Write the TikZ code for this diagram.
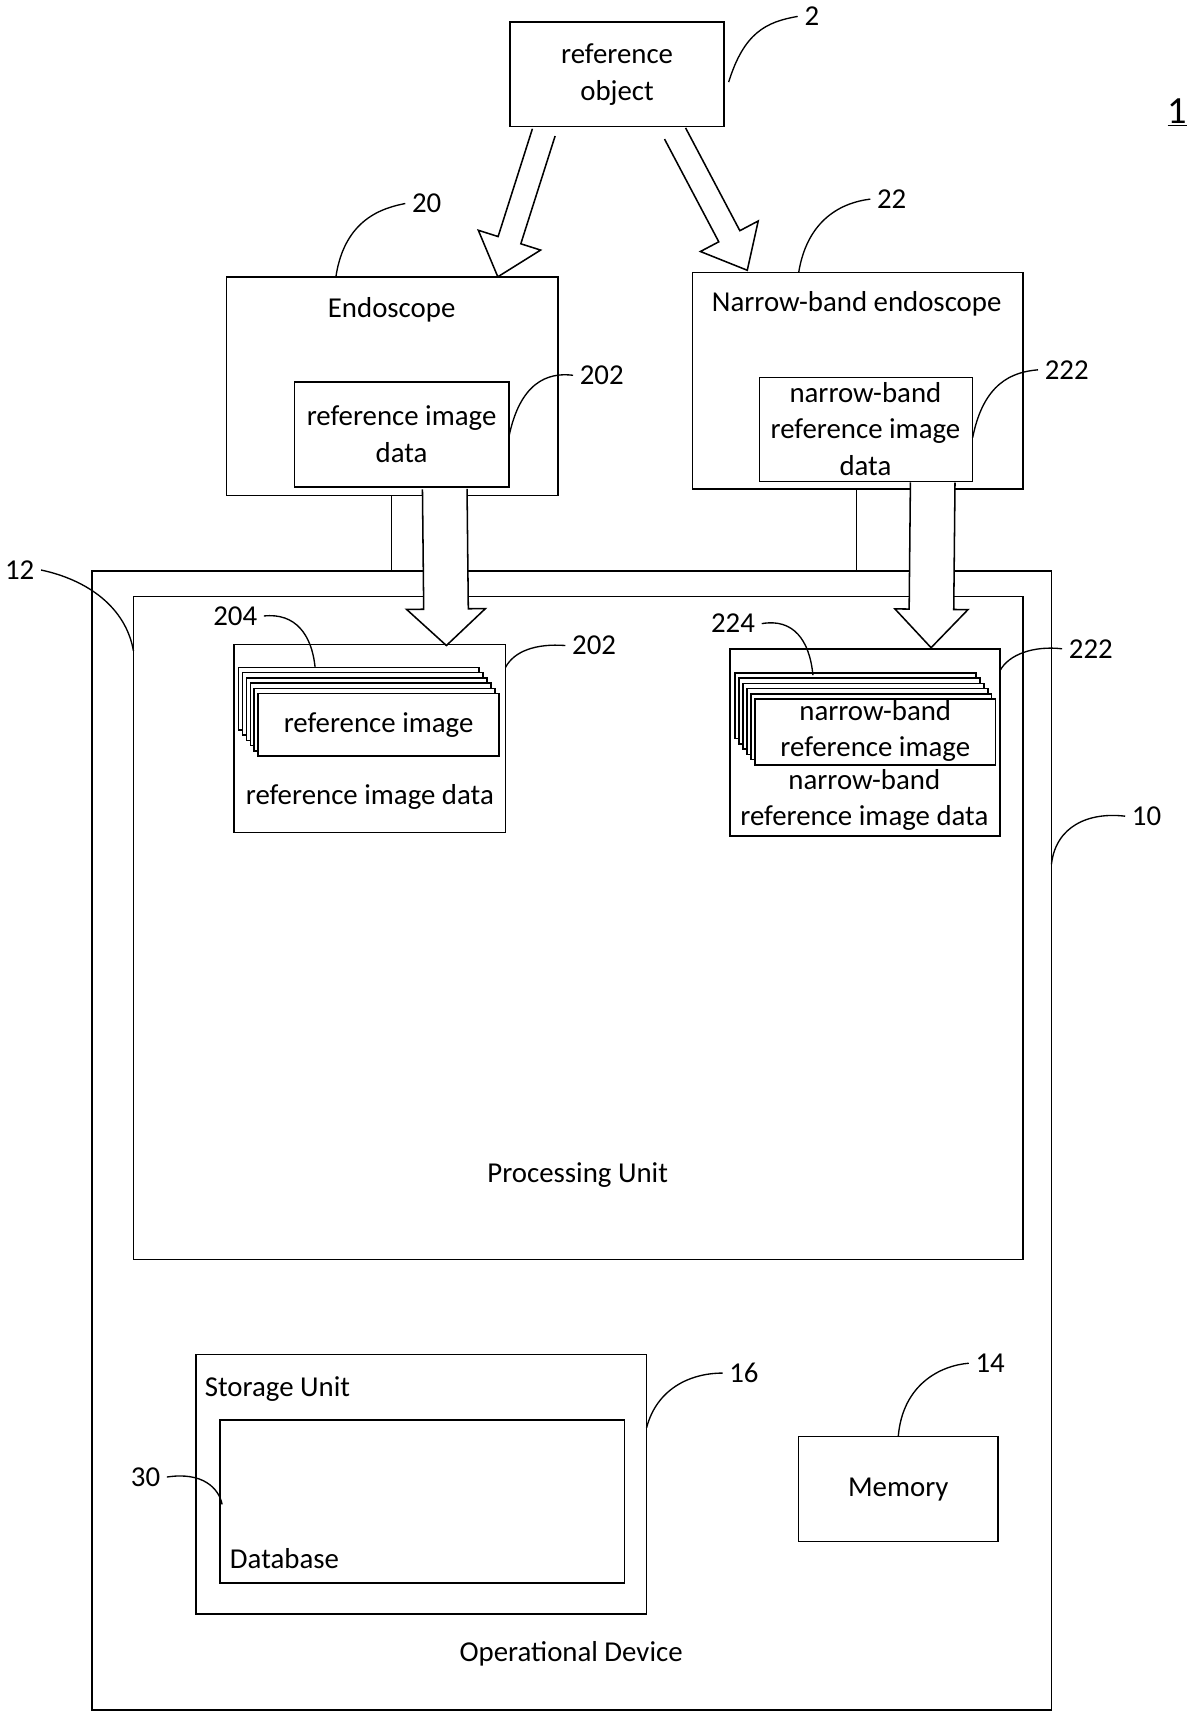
\documentclass[tikz,border=0pt]{standalone}
\usepackage{fontspec}
\setmainfont{Carlito}
\usetikzlibrary{calc}
\begin{document}
\begin{tikzpicture}[x=0.02cm,y=-0.02cm,
  box/.style={draw,line width=0.8pt},
  lbl/.style={font=\fontsize{15}{19}\selectfont,align=center},
  num/.style={font=\fontsize{15}{19}\selectfont},
  lead/.style={line width=0.7pt},
  harrow/.style={draw,line width=0.8pt,fill=white}]
\useasboundingbox (0,0) rectangle (1097,1573);
\newcommand{\hollowarr}[5]{% A B halfshaft halfhead headlen (pt)
  \coordinate (hA) at #1; \coordinate (hB) at #2;
  \coordinate (hH) at ($(hB)!#5!(hA)$);
  \draw[harrow] ($(hA)!#3!90:(hB)$) -- ($(hH)!#3!90:(hB)$) -- ($(hH)!#4!90:(hB)$) -- (hB)
   -- ($(hH)!#4!-90:(hB)$) -- ($(hH)!#3!-90:(hB)$) -- ($(hA)!#3!-90:(hB)$);}
% reference object
\node[box,lbl,minimum width=196*0.567pt,minimum height=96*0.567pt] (ro) at (564,68) {reference\\object};
\node[num] (n2) at (742,15) {2};
\draw[lead] (666,75) .. controls (680,30) and (700,20) .. (n2.west);
\node[font=\fontsize{20}{24}\selectfont] (one) at (1076,103) {\underline{1}};
% endoscope
\draw[box] (207,253) rectangle (510,453);
\node[lbl] (endo) at (358,283) {Endoscope};
\draw[box] (269,349) rectangle (465,445);
\node[lbl] (rid) at (367,397) {reference image\\data};
\node[num] (n202a) at (550,343) {202};
\draw[lead] (465,400) .. controls (475,350) and (500,340) .. (n202a.west);
\node[num] (n20) at (390,186) {20};
\draw[lead] (307,253) .. controls (315,200) and (350,190) .. (n20.west);
% narrow band
\draw[box] (633,249) rectangle (935,447);
\node[lbl] (nbe) at (783,278) {Narrow-band endoscope};
\draw[box] (694,345) rectangle (889,440);
\node[lbl] (nrid) at (791,392) {narrow-band\\reference image\\data};
\node[num] (n222a) at (975,338) {222};
\draw[lead] (889,400) .. controls (899,350) and (925,340) .. (n222a.west);
\node[num] (n22) at (815,182) {22};
\draw[lead] (730,249) .. controls (738,200) and (770,185) .. (n22.west);
% device
\draw[box] (84,522) rectangle (961,1563);
\node[lbl] (od) at (522,1512) {Operational Device};
\node[num] (n10) at (1048,746) {10};
\draw[lead] (961,790) .. controls (965,755) and (995,742) .. (n10.west);
\draw[box] (122,545) rectangle (935,1151);
\node[lbl] (pu) at (528,1074) {Processing Unit};
\node[num] (n12) at (18,521) {12};
\draw[lead] (n12.east) .. controls (80,530) and (115,555) .. (122,595);
% stubs
\draw[box] (358,453) -- (358,522);
\draw[box] (783,447) -- (783,522);
% left data
\draw[box] (214,589) rectangle (462,761);
\foreach \i in {5,4,3,2,1} {\draw[box,fill=white] (236-3.6*\i,634-4.8*\i) rectangle (456-3.6*\i,691-4.8*\i);}
\draw[box,fill=white] (236,634) rectangle (456,691);
\node[lbl] (ri) at (346,663) {reference image};
\node[lbl] (rid2) at (338,728) {reference image data};
\node[num] (n204) at (215,563) {204};
\draw[lead] (n204.east) .. controls (270,560) and (285,580) .. (288,610);
\node[num] (n202b) at (543,590) {202};
\draw[lead] (462,610) .. controls (470,595) and (490,588) .. (n202b.west);
% right data
\draw[box] (667,593) rectangle (914,764);
\foreach \i in {5,4,3,2,1} {\draw[box,fill=white] (690-3.6*\i,639-4.8*\i) rectangle (910-3.6*\i,699-4.8*\i);}
\draw[box,fill=white] (690,639) rectangle (910,699);
\node[lbl] (nri) at (800,668) {narrow-band\\reference image};
\node[lbl] (nrid2) at (790,731) {narrow-band\\reference image data};
\node[num] (n224) at (670,570) {224};
\draw[lead] (n224.east) .. controls (725,565) and (740,585) .. (743,617);
\node[num] (n222b) at (997,593) {222};
\draw[lead] (914,613) .. controls (922,598) and (945,590) .. (n222b.west);
% arrows
\hollowarr{(497,121)}{(455,253)}{6.2pt}{17pt}{20pt}
\hollowarr{(617,122)}{(683,247)}{6.2pt}{17pt}{20pt}
\hollowarr{(406.5,447)}{(408,590)}{11.6pt}{20.5pt}{19pt}
\hollowarr{(852.5,441)}{(851,592)}{11.6pt}{19pt}{20pt}
% storage
\draw[box] (179,1238) rectangle (591,1475);
\node[lbl,anchor=west] (su) at (181,1270) {Storage Unit};
\draw[box] (201,1298) rectangle (571,1447);
\node[lbl,anchor=west] (db) at (204,1425) {Database};
\node[num] (n30) at (133,1350) {30};
\draw[lead] (n30.east) .. controls (185,1345) and (200,1360) .. (203,1375);
\node[num] (n16) at (680,1255) {16};
\draw[lead] (591,1305) .. controls (600,1270) and (630,1255) .. (n16.west);
% memory
\draw[box] (730,1313) rectangle (912,1409);
\node[lbl] (mem) at (821,1361) {Memory};
\node[num] (n14) at (905,1246) {14};
\draw[lead] (821,1313) .. controls (825,1265) and (860,1248) .. (n14.west);
\end{tikzpicture}
\end{document}
